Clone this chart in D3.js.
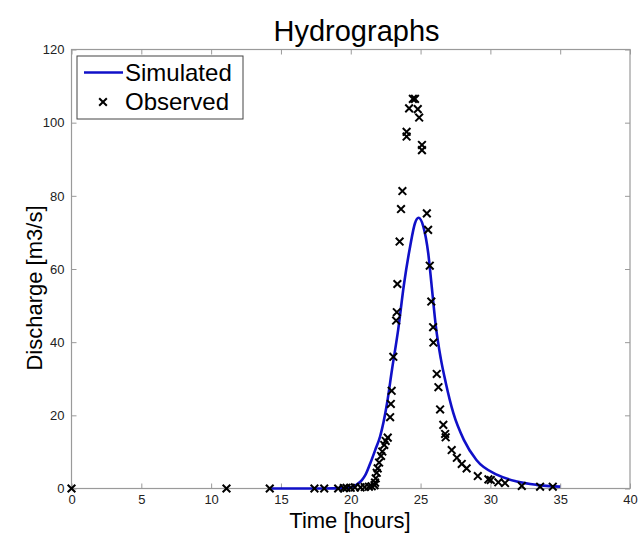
<!DOCTYPE html>
<html>
<head>
<meta charset="utf-8">
<script src="https://cdn.jsdelivr.net/npm/d3@7"></script>
<style>
  html, body { margin: 0; padding: 0; background: #fff; }
  svg { display: block; }
  text { font-family: Arial, "Liberation Sans", sans-serif; }
</style>
</head>
<body>
<svg id="chart" width="639" height="535"></svg>
<script>
// Simulated hydrograph (time in hours, discharge in m3/s)
const simTime = [14.3, 16, 18, 19.5, 20.0, 20.4, 20.8, 21.05, 21.4, 21.75, 22.1, 22.6, 22.95, 23.4, 23.8, 24.25, 24.6, 24.85, 25.2, 25.55, 25.8, 26.1, 26.45, 26.8, 27.35, 28.1, 29.0, 30.5, 31.9, 33.3, 35.0];
const simQ    = [0, 0, 0, 0.1, 0.3, 1.0, 2.3, 3.7, 6.9, 10.5, 14.2, 23.3, 32.4, 43.5, 55.5, 66.1, 72.5, 74.0, 71.6, 64.3, 55.2, 44.2, 35.5, 29.0, 20.6, 13.3, 7.8, 3.7, 1.9, 1.0, 0.5];

// Observed discharge
const obsTime = [0, 11.1, 14.2, 17.4, 18.1, 19.1, 19.5, 19.7, 20.0, 20.3, 20.7, 21.0, 21.3, 21.5, 21.7,
  21.74, 21.79, 21.86, 21.93, 22.03, 22.17, 22.26, 22.4, 22.5, 22.65, 22.82, 22.87, 22.93, 23.05,
  23.25, 23.3, 23.34, 23.5, 23.6, 23.7, 24.0, 24.0, 24.18, 24.45, 24.6, 24.8, 24.9, 25.1, 25.1,
  25.45, 25.54, 25.66, 25.77, 25.9, 25.92, 26.16, 26.28, 26.4, 26.63, 26.76, 26.8, 27.23, 27.6,
  27.95, 28.3, 29.1, 29.86, 30.03, 30.57, 31.05, 32.25, 33.56, 34.47];
const obsQ = [0, 0, 0, 0, 0, 0, 0.1, 0.2, 0.2, 0.3, 0.3, 0.4, 0.5, 0.6, 0.9,
  1.6, 2.8, 4.3, 5.5, 7.1, 8.9, 10.1, 11.9, 13.0, 13.9, 19.5, 23.1, 26.7, 36.0,
  45.9, 48.2, 55.9, 67.5, 76.4, 81.3, 96.2, 97.5, 103.9, 106.5, 106.5, 103.7, 101.4, 93.9, 92.5,
  75.2, 70.7, 60.9, 51.1, 44.1, 39.9, 31.3, 27.7, 21.6, 17.4, 14.9, 14.0, 10.5, 8.4,
  6.7, 5.5, 3.4, 2.5, 2.3, 1.7, 1.5, 0.7, 0.5, 0.5];

const xTicks = [0, 5, 10, 15, 20, 25, 30, 35, 40];
const yTicks = [0, 20, 40, 60, 80, 100, 120];

const svg = d3.select("#chart");
const plotLeft = 71.5, plotRight = 630, plotTop = 49.5, plotBottom = 488.5;

const x = d3.scaleLinear().domain([0, 40]).range([plotLeft, plotRight]);
const y = d3.scaleLinear().domain([0, 120]).range([plotBottom, plotTop]);

const axisColor = "#9a9a9a";
const labelColor = "#222";
const simColor = "#1010c8";

// Plot frame
svg.append("rect")
  .attr("x", plotLeft).attr("y", plotTop)
  .attr("width", plotRight - plotLeft).attr("height", plotBottom - plotTop)
  .attr("fill", "none").attr("stroke", axisColor).attr("stroke-width", 1.2);

function styleAxis(g) {
  g.select(".domain").remove();
  g.selectAll(".tick line").attr("stroke", axisColor).attr("stroke-width", 1);
  g.selectAll(".tick text").attr("fill", labelColor).style("font-size", "13px");
}

// Bottom and top axes (ticks pointing inward)
svg.append("g").attr("transform", `translate(0,${plotBottom})`)
  .call(d3.axisBottom(x).tickValues(xTicks).tickSizeInner(-5).tickSizeOuter(0).tickPadding(6))
  .call(styleAxis);
svg.append("g").attr("transform", `translate(0,${plotTop})`)
  .call(d3.axisTop(x).tickValues(xTicks).tickSizeInner(-5).tickSizeOuter(0).tickFormat(""))
  .call(styleAxis);

// Left and right axes
svg.append("g").attr("transform", `translate(${plotLeft},0)`)
  .call(d3.axisLeft(y).tickValues(yTicks).tickSizeInner(-5).tickSizeOuter(0).tickPadding(7))
  .call(styleAxis);
svg.append("g").attr("transform", `translate(${plotRight},0)`)
  .call(d3.axisRight(y).tickValues(yTicks).tickSizeInner(-5).tickSizeOuter(0).tickFormat(""))
  .call(styleAxis);

// Simulated line
const simData = simTime.map((t, i) => [t, simQ[i]]);
svg.append("path")
  .datum(simData)
  .attr("fill", "none")
  .attr("stroke", simColor)
  .attr("stroke-width", 2.6)
  .attr("stroke-linejoin", "round")
  .attr("d", d3.line().x(d => x(d[0])).y(d => y(d[1])).curve(d3.curveMonotoneX));

// Observed markers (bold x crosses)
const cross = d3.symbol().type(d3.symbolX).size(40);
svg.append("g").selectAll("path")
  .data(obsTime.map((t, i) => [t, obsQ[i]]))
  .join("path")
  .attr("transform", d => `translate(${x(d[0])},${y(d[1])})`)
  .attr("d", cross)
  .attr("fill", "none")
  .attr("stroke", "#000")
  .attr("stroke-width", 2);

// Title and axis labels
svg.append("text")
  .attr("x", 356.5).attr("y", 41)
  .attr("text-anchor", "middle")
  .style("font-size", "29px")
  .text("Hydrographs");

svg.append("text")
  .attr("x", 350).attr("y", 528)
  .attr("text-anchor", "middle")
  .style("font-size", "22px")
  .text("Time [hours]");

svg.append("text")
  .attr("transform", `translate(42,${288}) rotate(-90)`)
  .attr("text-anchor", "middle")
  .style("font-size", "22px")
  .text("Discharge [m3/s]");

// Legend
const lg = svg.append("g");
lg.append("rect")
  .attr("x", 77).attr("y", 56).attr("width", 166).attr("height", 63)
  .attr("fill", "#fff").attr("stroke", "#444").attr("stroke-width", 1);
lg.append("line")
  .attr("x1", 84).attr("x2", 123).attr("y1", 72.5).attr("y2", 72.5)
  .attr("stroke", simColor).attr("stroke-width", 2.6);
lg.append("text").attr("x", 125).attr("y", 81).style("font-size", "24px").text("Simulated");
lg.append("path")
  .attr("transform", "translate(103,102)")
  .attr("d", cross)
  .attr("fill", "none").attr("stroke", "#000").attr("stroke-width", 2);
lg.append("text").attr("x", 125).attr("y", 110).style("font-size", "24px").text("Observed");
</script>
</body>
</html>
